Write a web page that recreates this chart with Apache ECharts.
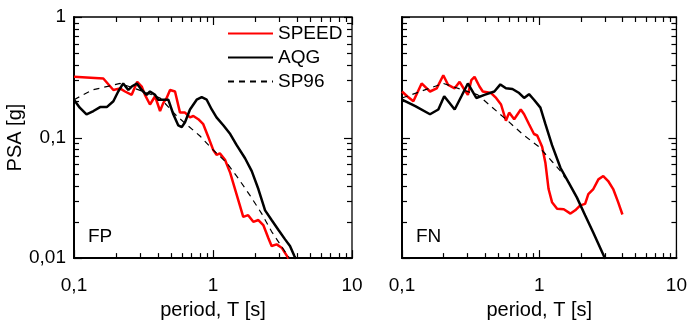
<!DOCTYPE html>
<html><head><meta charset="utf-8">
<script src="https://cdn.jsdelivr.net/npm/echarts@6/dist/echarts.min.js"></script>
<style>html,body{margin:0;padding:0;background:#fff}#c{width:690px;height:325px}</style>
</head><body><div id="c"></div>
<script>
// ---- data (period T [s], PSA [g]) ----
const fpSpeedT   = [0.1,0.1625,0.192,0.214,0.233,0.260,0.285,0.307,0.324,0.352,0.383,0.416,0.439,0.464,0.491,0.533,0.579,0.629,0.683,0.722,0.784,0.851,0.925,1.005,1.06,1.12,1.22,1.33,1.44,1.56,1.65,1.79,1.95,2.12,2.30,2.50,2.64,2.87,3.12,3.50];
const fpSpeedPSA = [0.319,0.309,0.248,0.256,0.241,0.226,0.290,0.265,0.226,0.188,0.220,0.166,0.194,0.213,0.248,0.241,0.161,0.161,0.147,0.151,0.142,0.129,0.101,0.0787,0.0718,0.0739,0.0654,0.0509,0.0374,0.0274,0.0220,0.0227,0.0200,0.0207,0.0188,0.0147,0.0126,0.0130,0.0122,0.0099];
const fpAqgT   = [0.1,0.110,0.123,0.138,0.154,0.172,0.192,0.208,0.226,0.246,0.260,0.283,0.307,0.333,0.352,0.383,0.404,0.477,0.518,0.563,0.596,0.629,0.683,0.763,0.829,0.901,0.979,1.06,1.19,1.33,1.48,1.70,1.90,2.12,2.37,2.64,2.95,3.30,3.58,3.85,3.95];
const fpAqgPSA = [0.206,0.177,0.156,0.166,0.179,0.179,0.200,0.241,0.281,0.248,0.265,0.281,0.248,0.226,0.241,0.226,0.206,0.206,0.156,0.126,0.122,0.134,0.171,0.206,0.216,0.206,0.171,0.147,0.126,0.107,0.0865,0.0674,0.0526,0.0374,0.0249,0.0207,0.0172,0.0143,0.0126,0.0104,0.0098];
const fpSp96T   = [0.1,0.135,0.215,0.315,0.416,0.548,0.806,0.979,1.26,1.48,1.85,2.24,2.64,3.39,3.6];
const fpSp96PSA = [0.206,0.248,0.281,0.241,0.213,0.151,0.103,0.0811,0.0614,0.0479,0.0330,0.0234,0.0166,0.0108,0.0098];

const fnSpeedT   = [0.1,0.109,0.121,0.139,0.160,0.179,0.200,0.217,0.242,0.263,0.286,0.302,0.320,0.338,0.367,0.388,0.446,0.485,0.527,0.572,0.604,0.657,0.734,0.776,0.843,0.916,0.967,1.05,1.11,1.17,1.24,1.35,1.51,1.69,1.83,1.99,2.16,2.28,2.48,2.70,2.93,3.18,3.46,3.76,4.04];
const fnSpeedPSA = [0.241,0.220,0.200,0.281,0.241,0.256,0.329,0.273,0.256,0.290,0.248,0.226,0.299,0.319,0.265,0.241,0.234,0.213,0.188,0.138,0.161,0.142,0.171,0.156,0.129,0.107,0.104,0.0838,0.0614,0.0374,0.0291,0.0257,0.0254,0.0234,0.0249,0.0274,0.0282,0.0340,0.0374,0.0450,0.0479,0.0436,0.0374,0.0291,0.0230];
const fnAqgT   = [0.1,0.125,0.160,0.184,0.203,0.217,0.242,0.271,0.302,0.348,0.399,0.471,0.521,0.572,0.638,0.714,0.776,0.843,0.916,1.02,1.11,1.24,1.43,1.64,1.88,2.16,2.48,2.96,3.03];
const fnAqgPSA = [0.206,0.182,0.156,0.171,0.220,0.200,0.171,0.220,0.281,0.213,0.226,0.241,0.276,0.256,0.253,0.234,0.213,0.229,0.206,0.177,0.129,0.0865,0.0559,0.0423,0.0319,0.0227,0.0162,0.0104,0.0098];
const fnSp96T   = [0.1,0.200,0.357,0.588,0.754,0.995,1.24,1.43,1.55];
const fnSp96PSA = [0.213,0.281,0.226,0.138,0.107,0.0838,0.0633,0.0526,0.046];

const seriesNames = ['SPEED','AQG','SP96'];
const panelLabels = ['FP','FN'];
const xMajorTicks = [0.1,1,10];
const yMajorTicks = [0.01,0.1,1];
const minorMult   = [2,3,4,5,6,7,8,9];

const FONT = 'Liberation Sans, Arial, Helvetica, sans-serif';
const comma = v => String(v).replace('.', ',');
const pairs = (a,b) => a.map((t,i)=>[t,b[i]]);

const chart = echarts.init(document.getElementById('c'), null, {renderer:'canvas'});

const grids = [
  {left:74, top:17, width:278, height:247},
  {left:402, top:17, width:277, height:247}
];

function xAxis(i){
  return {
    type:'log', logBase:10, min:0.1, max:10, gridIndex:i,
    name:'period, T [s]', nameLocation:'middle', nameGap:40,
    nameTextStyle:{fontFamily:FONT,fontSize:20,color:'#000'},
    axisLine:{show:true,onZero:false,lineStyle:{color:'#000',width:2}},
    axisTick:{show:false}, minorTick:{show:false},
    splitLine:{show:false},
    axisLabel:{show:true,margin:18,fontFamily:FONT,fontSize:19,color:'#000',formatter:v=>comma(v),
      customValues: xMajorTicks}
  };
}
function yAxis(i){
  return {
    type:'log', logBase:10, min:0.01, max:1, gridIndex:i,
    name: i===0 ? 'PSA [g]' : '', nameLocation:'middle', nameGap:41, nameRotate:90,
    nameTextStyle:{fontFamily:FONT,fontSize:20,color:'#000'},
    axisLine:{show:true,onZero:false,lineStyle:{color:'#000',width:2}},
    axisTick:{show:false}, minorTick:{show:false},
    splitLine:{show:false},
    axisLabel:{show:i===0,margin:8,fontFamily:FONT,fontSize:19,color:'#000',formatter:v=>comma(v),
      customValues: yMajorTicks}
  };
}

function line(name, data, idx, color, width, dashed){
  return {
    type:'line', name, data, xAxisIndex:idx, yAxisIndex:idx,
    symbol:'none', showSymbol:false, clip:true, silent:true, animation:false,
    lineStyle:{color, width, type: dashed ? [6,5] : 'solid'},
    itemStyle:{color}
  };
}

chart.setOption({
  animation:false,
  grid: grids.map(g=>Object.assign({show:true,borderColor:'#000',borderWidth:1.3,backgroundColor:'transparent'},g)),
  xAxis:[xAxis(0),xAxis(1)],
  yAxis:[yAxis(0),yAxis(1)],
  legend:{
    data:seriesNames, orient:'vertical', left:227, top:24, padding:0,
    itemWidth:45, itemHeight:14, itemGap:5,
    itemStyle:{opacity:0},
    textStyle:{fontFamily:FONT,fontSize:19,color:'#000'},
    selectedMode:false
  },
  series:[
    line('SPEED', pairs(fpSpeedT,fpSpeedPSA), 0, '#ff0000', 2.5, false),
    line('AQG',   pairs(fpAqgT,fpAqgPSA),     0, '#000000', 2.5, false),
    line('SP96',  pairs(fpSp96T,fpSp96PSA),   0, '#000000', 1.2, true),
    line('SPEED', pairs(fnSpeedT,fnSpeedPSA), 1, '#ff0000', 2.5, false),
    line('AQG',   pairs(fnAqgT,fnAqgPSA),     1, '#000000', 2.5, false),
    line('SP96',  pairs(fnSp96T,fnSp96PSA),   1, '#000000', 1.2, true)
  ]
});

// ticks (inward, on all four sides) and panel labels
const els = [];
function seg(x1,y1,x2,y2){
  els.push({type:'line',silent:true,z:100,shape:{x1,y1,x2,y2},style:{stroke:'#000',lineWidth:1.2}});
}
[0,1].forEach(i=>{
  const px = v => chart.convertToPixel({xAxisIndex:i}, v);
  const py = v => chart.convertToPixel({yAxisIndex:i}, v);
  const xl = px(0.1), xr = px(10), yb = py(0.01), yt = py(1);
  const xt = [], yt2 = [];
  xMajorTicks.forEach(v=>xt.push([v,true]));
  xMajorTicks.slice(0,2).forEach(d=>minorMult.forEach(m=>xt.push([d*m,false])));
  yMajorTicks.forEach(v=>yt2.push([v,true]));
  yMajorTicks.slice(0,2).forEach(d=>minorMult.forEach(m=>yt2.push([d*m,false])));
  xt.forEach(([v,maj])=>{ const x=Math.round(px(v))+0.5, L=maj?8:5; seg(x,yb,x,yb-L); seg(x,yt,x,yt+L); });
  yt2.forEach(([v,maj])=>{ const y=Math.round(py(v))+0.5, L=maj?8:5; seg(xl,y,xl+L,y); seg(xr,y,xr-L,y); });
  els.push({type:'text',silent:true,z:100,x:xl+14,y:yb-21,style:{text:panelLabels[i],font:'19px '+FONT,fill:'#000',textVerticalAlign:'middle'}});
});
chart.setOption({graphic:els});
</script>
</body></html>
